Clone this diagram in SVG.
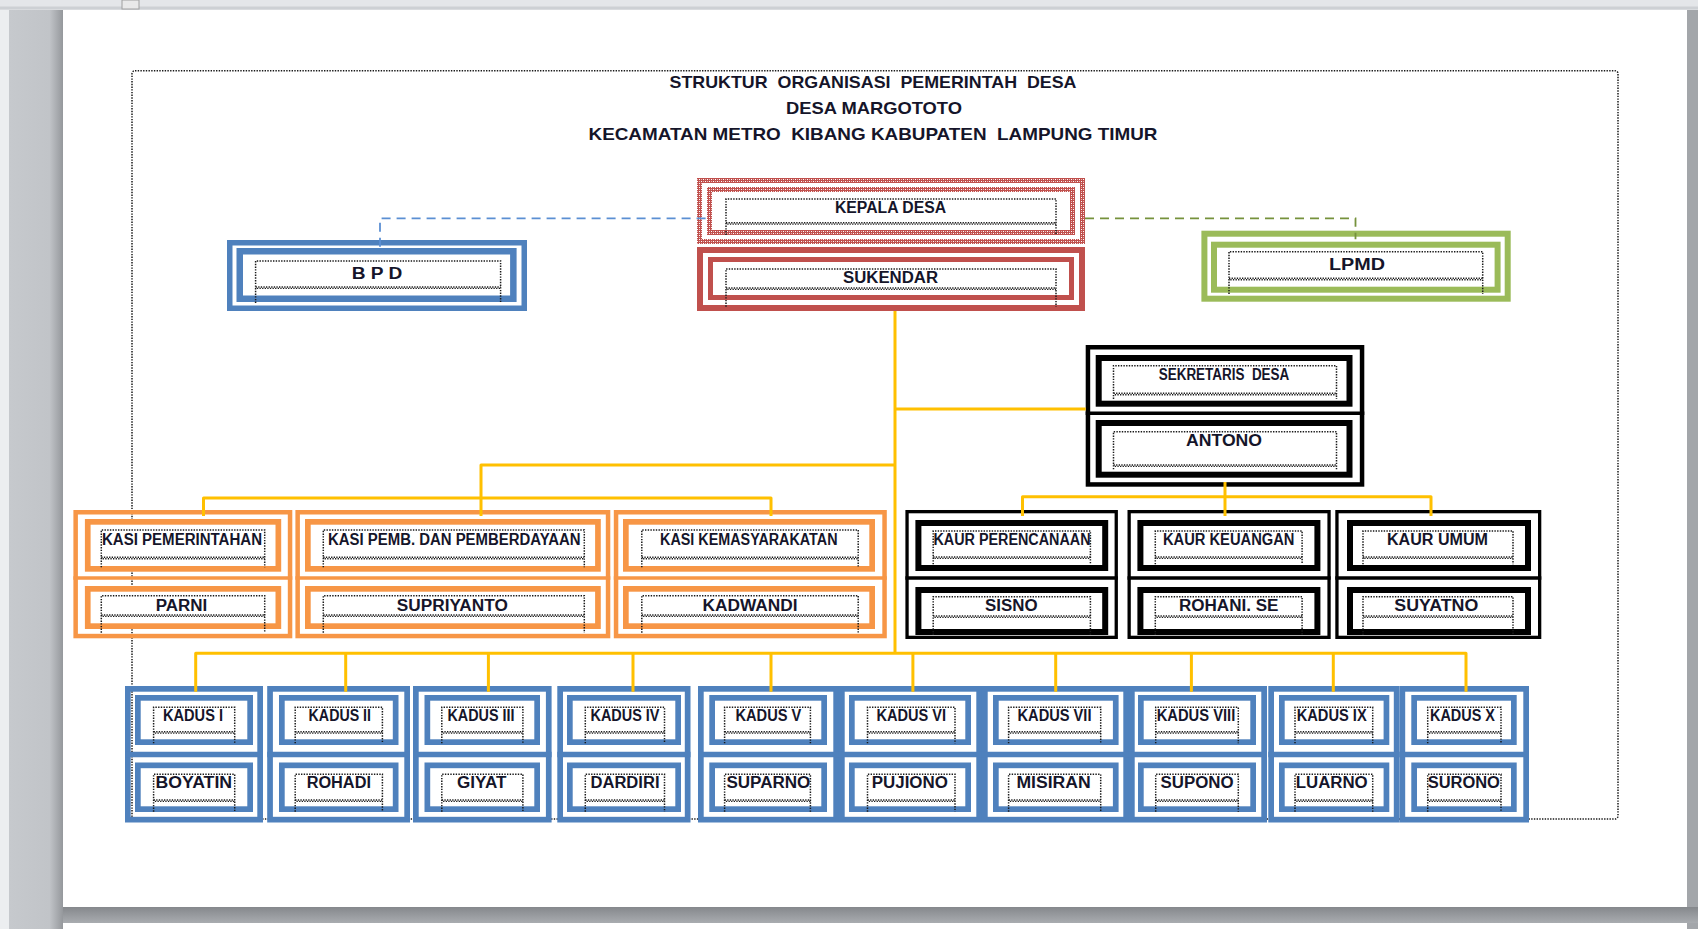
<svg xmlns="http://www.w3.org/2000/svg" width="1698" height="929" viewBox="0 0 1698 929">
<defs>
<pattern id="hatch" width="4" height="4" patternUnits="userSpaceOnUse">
<rect width="4" height="4" fill="#c0504d"/>
<rect x="1" y="1" width="1" height="1" fill="#ffffff"/>
<rect x="3" y="3" width="1" height="1" fill="#ffffff"/>
<rect x="3" y="1" width="1" height="1" fill="#eab8b6"/>
<rect x="1" y="3" width="1" height="1" fill="#eab8b6"/>
</pattern>
<linearGradient id="lg" x1="0" x2="1" y1="0" y2="0">
<stop offset="0" stop-color="#c6c9cd"/>
<stop offset="0.75" stop-color="#c1c4c8"/>
<stop offset="1" stop-color="#95989c"/>
</linearGradient>
<linearGradient id="bg" x1="0" x2="0" y1="0" y2="1">
<stop offset="0" stop-color="#85888c"/>
<stop offset="1" stop-color="#a9acb0"/>
</linearGradient>
</defs>
<style>
.o{fill:none}
.i{fill:#ffffff}
.blue{stroke:#4f81bd}
.red{stroke:#c0504d}
.redp{stroke:url(#hatch)}
.green{stroke:#9bbb59}
.orange{stroke:#f79646}
.black{stroke:#000000}
.tf{fill:none;stroke:#1a1a1a;stroke-width:1.5;stroke-dasharray:1.4 1.3}
.zz{fill:none;stroke:#1a1a1a;stroke-width:1.4;stroke-dasharray:1.3 1.3}
.zz2{fill:none;stroke:#1a1a1a;stroke-width:1.4;stroke-dasharray:1.3 1.3;stroke-dashoffset:1.3}
.t{font-family:"Liberation Sans",Arial,sans-serif;font-weight:700;font-size:16px;fill:#15152a;text-anchor:middle}
.title{font-size:17px}
.y{fill:none;stroke:#ffc000;stroke-width:3;stroke-linejoin:round;stroke-linecap:butt}
.dash{fill:none;stroke-width:1.8;stroke-dasharray:9 6}
</style>

<!-- window / page background -->
<rect x="0" y="0" width="1698" height="929" fill="#eceef0"/>
<rect x="0" y="0" width="1698" height="10" fill="#e4e6e9"/>
<rect x="0" y="6.5" width="1698" height="3" fill="#cdd0d4"/>
<rect x="122" y="0" width="17" height="9" fill="#e9e9e9" stroke="#a0a0a0" stroke-width="1"/>
<rect x="9" y="10" width="54" height="919" fill="url(#lg)"/>
<rect x="1687" y="10" width="11" height="919" fill="#a3a6aa"/>
<rect x="63" y="10" width="1624" height="897" fill="#ffffff"/>
<rect x="63" y="907" width="1635" height="16" fill="url(#bg)"/>
<rect x="63" y="923" width="1624" height="6" fill="#ffffff"/>

<!-- outer dotted frame -->
<rect x="132" y="70.7" width="1486" height="748.3" rx="3" fill="none" stroke="#1a1a1a" stroke-width="1.5" stroke-dasharray="1.4 1.3"/>

<!-- title -->
<g id="title">
<text class="t title" x="873" y="88.3" textLength="407" lengthAdjust="spacingAndGlyphs" xml:space="preserve">STRUKTUR  ORGANISASI  PEMERINTAH  DESA</text>
<text class="t title" x="874" y="114" textLength="176" lengthAdjust="spacingAndGlyphs">DESA MARGOTOTO</text>
<text class="t title" x="873" y="140" textLength="569" lengthAdjust="spacingAndGlyphs" xml:space="preserve">KECAMATAN METRO  KIBANG KABUPATEN  LAMPUNG TIMUR</text>
</g>

<!-- top nodes -->
<g id="bpd">
<rect class="o blue" x="229.75" y="242.75" width="294.5" height="65.5" stroke-width="5.5"/>
<rect class="i blue" x="239.75" y="251.25" width="273.6" height="47.5" stroke-width="6.5"/>
<path class="tf" d="M255.6,303 V261 H500.6 V303"/>
<path class="zz" d="M255.6,287 H500.6"/><path class="zz2" d="M255.6,288.4 H500.6"/>
<text class="t" x="377" y="279.3" textLength="50.6" lengthAdjust="spacingAndGlyphs">B P D</text>
</g>

<g id="kepala-desa">
<rect class="o redp" x="699.5" y="180.5" width="383" height="61" stroke-width="5"/>
<rect class="i redp" x="709.5" y="189.5" width="363" height="43" stroke-width="5"/>
<path class="tf" d="M726,235 V199 H1056 V235"/>
<path class="zz" d="M726,222.7 H1056"/><path class="zz2" d="M726,224.1 H1056"/>
<text class="t" x="890.5" y="213.3" textLength="111" lengthAdjust="spacingAndGlyphs">KEPALA DESA</text>
</g>

<g id="sukendar">
<rect class="o red" x="700" y="250" width="382" height="58" stroke-width="6"/>
<rect class="i red" x="710.5" y="259.5" width="361" height="38" stroke-width="5"/>
<path class="tf" d="M726,306.7 V269 H1056 V306.7"/>
<path class="zz" d="M726,288 H1056"/><path class="zz2" d="M726,289.4 H1056"/>
<text class="t" x="890.5" y="282.7" textLength="95" lengthAdjust="spacingAndGlyphs">SUKENDAR</text>
</g>

<g id="lpmd">
<rect class="o green" x="1204.4" y="233.7" width="303.3" height="65" stroke-width="6"/>
<rect class="i green" x="1214" y="244.7" width="283.6" height="45" stroke-width="6"/>
<path class="tf" d="M1229,294 V251.7 H1482.7 V294"/>
<path class="zz" d="M1229,278.3 H1482.7"/><path class="zz2" d="M1229,279.7 H1482.7"/>
<text class="t" x="1357" y="270" textLength="56" lengthAdjust="spacingAndGlyphs">LPMD</text>
</g>

<!-- sekretaris -->
<g id="sekretaris-desa">
<rect class="o black" x="1087.95" y="347.25" width="274.1" height="137.2" stroke-width="4.5"/>
<line x1="1085.7" y1="413.3" x2="1364.3" y2="413.3" stroke="#000" stroke-width="3.5"/>
<rect class="i black" x="1098.7" y="358" width="250.8" height="45.7" stroke-width="6"/>
<rect class="i black" x="1098.7" y="423" width="250.8" height="51.7" stroke-width="6"/>
<path class="tf" d="M1113.5,399 V365.7 H1336.5 V399"/>
<path class="zz" d="M1113.5,393.3 H1336.5"/><path class="zz2" d="M1113.5,394.7 H1336.5"/>
<path class="tf" d="M1113.5,469.3 V431.7 H1336.5 V469.3"/>
<path class="zz" d="M1113.5,465 H1336.5"/><path class="zz2" d="M1113.5,466.4 H1336.5"/>
<text class="t" x="1224" y="380" textLength="130.5" lengthAdjust="spacingAndGlyphs" xml:space="preserve">SEKRETARIS  DESA</text>
<text class="t" x="1224" y="446" textLength="76" lengthAdjust="spacingAndGlyphs">ANTONO</text>
</g>

<!-- KASI (orange) -->
<g id="kasi-pemerintahan">
<rect class="o orange" x="75.65" y="512.25" width="214.4" height="123.8" stroke-width="4.5"/>
<line x1="73.4" y1="578" x2="292.3" y2="578" stroke="#f79646" stroke-width="3.5"/>
<rect class="i orange" x="87.75" y="521.85" width="190.6" height="47" stroke-width="5.7"/>
<rect class="i orange" x="87.75" y="588.85" width="190.6" height="37.3" stroke-width="5.7"/>
<path class="tf" d="M101.3,567.3 V530 H264.7 V567.3"/>
<path class="zz" d="M101.3,557.3 H264.7"/><path class="zz2" d="M101.3,558.7 H264.7"/>
<path class="tf" d="M101.3,632.7 V595.7 H264.7 V632.7"/>
<path class="zz" d="M101.3,615 H264.7"/><path class="zz2" d="M101.3,616.4 H264.7"/>
<text class="t" x="182" y="545" textLength="160" lengthAdjust="spacingAndGlyphs">KASI PEMERINTAHAN</text>
<text class="t" x="181.5" y="610.7" textLength="51.6" lengthAdjust="spacingAndGlyphs">PARNI</text>
</g>

<g id="kasi-pemb">
<rect class="o orange" x="297.65" y="512.25" width="310.4" height="123.8" stroke-width="4.5"/>
<line x1="295.4" y1="578" x2="610.3" y2="578" stroke="#f79646" stroke-width="3.5"/>
<rect class="i orange" x="307.85" y="521.85" width="290.1" height="47" stroke-width="5.7"/>
<rect class="i orange" x="307.85" y="588.85" width="290.1" height="37.3" stroke-width="5.7"/>
<path class="tf" d="M323.3,567.3 V530 H584.3 V567.3"/>
<path class="zz" d="M323.3,557.3 H584.3"/><path class="zz2" d="M323.3,558.7 H584.3"/>
<path class="tf" d="M323.3,632.7 V595.7 H584.3 V632.7"/>
<path class="zz" d="M323.3,615 H584.3"/><path class="zz2" d="M323.3,616.4 H584.3"/>
<text class="t" x="454.3" y="545" textLength="252.5" lengthAdjust="spacingAndGlyphs">KASI PEMB. DAN PEMBERDAYAAN</text>
<text class="t" x="452.3" y="610.7" textLength="111" lengthAdjust="spacingAndGlyphs">SUPRIYANTO</text>
</g>

<g id="kasi-kemasyarakatan">
<rect class="o orange" x="616.05" y="512.25" width="268.5" height="123.8" stroke-width="4.5"/>
<line x1="613.8" y1="578" x2="886.8" y2="578" stroke="#f79646" stroke-width="3.5"/>
<rect class="i orange" x="625.85" y="521.85" width="246.3" height="47" stroke-width="5.7"/>
<rect class="i orange" x="625.85" y="588.85" width="246.3" height="37.3" stroke-width="5.7"/>
<path class="tf" d="M641.8,567.3 V530 H858.2 V567.3"/>
<path class="zz" d="M641.8,557.3 H858.2"/><path class="zz2" d="M641.8,558.7 H858.2"/>
<path class="tf" d="M641.8,632.7 V595.7 H858.2 V632.7"/>
<path class="zz" d="M641.8,615 H858.2"/><path class="zz2" d="M641.8,616.4 H858.2"/>
<text class="t" x="748.8" y="545" textLength="177.5" lengthAdjust="spacingAndGlyphs">KASI KEMASYARAKATAN</text>
<text class="t" x="750" y="611" textLength="95" lengthAdjust="spacingAndGlyphs">KADWANDI</text>
</g>

<!-- KAUR (black) -->
<g id="kaur-perencanaan">
<rect class="o black" x="907.05" y="511.65" width="209.2" height="125.7" stroke-width="3.3"/>
<line x1="905.4" y1="578" x2="1117.9" y2="578" stroke="#000" stroke-width="3.5"/>
<rect class="i black" x="918.4" y="523" width="186.8" height="45" stroke-width="6"/>
<rect class="i black" x="918.4" y="590" width="186.8" height="42" stroke-width="6"/>
<path class="tf" d="M933.2,564.3 V531 H1090.4 V564.3"/>
<path class="zz" d="M933.2,557 H1090.4"/><path class="zz2" d="M933.2,558.4 H1090.4"/>
<path class="tf" d="M933.2,635 V596.7 H1090.4 V635"/>
<path class="zz" d="M933.2,616 H1090.4"/><path class="zz2" d="M933.2,617.4 H1090.4"/>
<text class="t" x="1012" y="545" textLength="157" lengthAdjust="spacingAndGlyphs">KAUR PERENCANAAN</text>
<text class="t" x="1011.3" y="611" textLength="52.5" lengthAdjust="spacingAndGlyphs">SISNO</text>
</g>

<g id="kaur-keuangan">
<rect class="o black" x="1129.15" y="511.65" width="199.9" height="125.7" stroke-width="3.3"/>
<line x1="1127.5" y1="578" x2="1330.7" y2="578" stroke="#000" stroke-width="3.5"/>
<rect class="i black" x="1140.4" y="523" width="177" height="45" stroke-width="6"/>
<rect class="i black" x="1140.4" y="590" width="177" height="42" stroke-width="6"/>
<path class="tf" d="M1155.3,564.3 V531 H1302.1 V564.3"/>
<path class="zz" d="M1155.3,557 H1302.1"/><path class="zz2" d="M1155.3,558.4 H1302.1"/>
<path class="tf" d="M1155.3,635 V596.7 H1302.1 V635"/>
<path class="zz" d="M1155.3,616 H1302.1"/><path class="zz2" d="M1155.3,617.4 H1302.1"/>
<text class="t" x="1228.7" y="545" textLength="131.5" lengthAdjust="spacingAndGlyphs">KAUR KEUANGAN</text>
<text class="t" x="1228.7" y="611" textLength="99.5" lengthAdjust="spacingAndGlyphs">ROHANI. SE</text>
</g>

<g id="kaur-umum">
<rect class="o black" x="1336.95" y="511.65" width="202.7" height="125.7" stroke-width="3.3"/>
<line x1="1335.3" y1="578" x2="1541.3" y2="578" stroke="#000" stroke-width="3.5"/>
<rect class="i black" x="1350" y="523" width="178" height="45" stroke-width="6"/>
<rect class="i black" x="1350" y="590" width="178" height="42" stroke-width="6"/>
<path class="tf" d="M1363,564.3 V531 H1513 V564.3"/>
<path class="zz" d="M1363,557 H1513"/><path class="zz2" d="M1363,558.4 H1513"/>
<path class="tf" d="M1363,635 V596.7 H1513 V635"/>
<path class="zz" d="M1363,616 H1513"/><path class="zz2" d="M1363,617.4 H1513"/>
<text class="t" x="1437.5" y="545" textLength="101" lengthAdjust="spacingAndGlyphs">KAUR UMUM</text>
<text class="t" x="1436.3" y="611" textLength="84" lengthAdjust="spacingAndGlyphs">SUYATNO</text>
</g>

<!-- KADUS (blue) -->
<g id="kadus-1">
<rect class="o blue" x="127.85" y="688.85" width="132.3" height="130.8" stroke-width="5.7"/>
<line x1="125" y1="754.5" x2="263" y2="754.5" stroke="#4f81bd" stroke-width="5.6"/>
<rect class="i blue" x="137.85" y="697.85" width="112.3" height="44.3" stroke-width="5.7"/>
<rect class="i blue" x="137.85" y="765.35" width="112.3" height="43.8" stroke-width="5.7"/>
<path class="tf" d="M153.6,743.3 V707.3 H234.7 V743.3"/><path class="zz" d="M153.6,731.7 H234.7"/><path class="zz2" d="M153.6,733.1 H234.7"/>
<path class="tf" d="M153.6,811.7 V774.3 H234.7 V811.7"/><path class="zz" d="M153.6,800 H234.7"/><path class="zz2" d="M153.6,801.4 H234.7"/>
<text class="t" x="193" y="720.7" textLength="60" lengthAdjust="spacingAndGlyphs">KADUS I</text>
<text class="t" x="193.8" y="788.3" textLength="76.5" lengthAdjust="spacingAndGlyphs">BOYATIN</text>
</g>

<g id="kadus-2">
<rect class="o blue" x="270.05" y="688.85" width="137.1" height="130.8" stroke-width="5.7"/>
<line x1="267.2" y1="754.5" x2="410" y2="754.5" stroke="#4f81bd" stroke-width="5.6"/>
<rect class="i blue" x="281.85" y="697.85" width="113.8" height="44.3" stroke-width="5.7"/>
<rect class="i blue" x="281.85" y="765.35" width="113.8" height="43.8" stroke-width="5.7"/>
<path class="tf" d="M295.2,743.3 V707.3 H382.4 V743.3"/><path class="zz" d="M295.2,731.7 H382.4"/><path class="zz2" d="M295.2,733.1 H382.4"/>
<path class="tf" d="M295.2,811.7 V774.3 H382.4 V811.7"/><path class="zz" d="M295.2,800 H382.4"/><path class="zz2" d="M295.2,801.4 H382.4"/>
<text class="t" x="339.8" y="720.7" textLength="62.4" lengthAdjust="spacingAndGlyphs">KADUS II</text>
<text class="t" x="338.8" y="788.3" textLength="64.3" lengthAdjust="spacingAndGlyphs">ROHADI</text>
</g>

<g id="kadus-3">
<rect class="o blue" x="415.85" y="688.85" width="132.9" height="130.8" stroke-width="5.7"/>
<line x1="413" y1="754.5" x2="551.6" y2="754.5" stroke="#4f81bd" stroke-width="5.6"/>
<rect class="i blue" x="427.35" y="697.85" width="109.8" height="44.3" stroke-width="5.7"/>
<rect class="i blue" x="427.35" y="765.35" width="109.8" height="43.8" stroke-width="5.7"/>
<path class="tf" d="M441.8,743.3 V707.3 H522.9 V743.3"/><path class="zz" d="M441.8,731.7 H522.9"/><path class="zz2" d="M441.8,733.1 H522.9"/>
<path class="tf" d="M441.8,811.7 V774.3 H522.9 V811.7"/><path class="zz" d="M441.8,800 H522.9"/><path class="zz2" d="M441.8,801.4 H522.9"/>
<text class="t" x="481" y="720.7" textLength="67" lengthAdjust="spacingAndGlyphs">KADUS III</text>
<text class="t" x="481.7" y="788.3" textLength="49.4" lengthAdjust="spacingAndGlyphs">GIYAT</text>
</g>

<g id="kadus-4">
<rect class="o blue" x="560.15" y="688.85" width="127.5" height="130.8" stroke-width="5.7"/>
<line x1="557.3" y1="754.5" x2="690.5" y2="754.5" stroke="#4f81bd" stroke-width="5.6"/>
<rect class="i blue" x="569.85" y="697.85" width="108.3" height="44.3" stroke-width="5.7"/>
<rect class="i blue" x="569.85" y="765.35" width="108.3" height="43.8" stroke-width="5.7"/>
<path class="tf" d="M585.3,743.3 V707.3 H664.5 V743.3"/><path class="zz" d="M585.3,731.7 H664.5"/><path class="zz2" d="M585.3,733.1 H664.5"/>
<path class="tf" d="M585.3,811.7 V774.3 H664.5 V811.7"/><path class="zz" d="M585.3,800 H664.5"/><path class="zz2" d="M585.3,801.4 H664.5"/>
<text class="t" x="625" y="720.7" textLength="69" lengthAdjust="spacingAndGlyphs">KADUS IV</text>
<text class="t" x="625" y="788.3" textLength="69" lengthAdjust="spacingAndGlyphs">DARDIRI</text>
</g>

<g id="kadus-5">
<rect class="o blue" x="700.85" y="688.85" width="135.3" height="130.8" stroke-width="5.7"/>
<line x1="698" y1="754.5" x2="839" y2="754.5" stroke="#4f81bd" stroke-width="5.6"/>
<rect class="i blue" x="712.15" y="697.85" width="112" height="44.3" stroke-width="5.7"/>
<rect class="i blue" x="712.15" y="765.35" width="112" height="43.8" stroke-width="5.7"/>
<path class="tf" d="M724.6,743.3 V707.3 H810.4 V743.3"/><path class="zz" d="M724.6,731.7 H810.4"/><path class="zz2" d="M724.6,733.1 H810.4"/>
<path class="tf" d="M724.6,811.7 V774.3 H810.4 V811.7"/><path class="zz" d="M724.6,800 H810.4"/><path class="zz2" d="M724.6,801.4 H810.4"/>
<text class="t" x="768.4" y="720.7" textLength="66" lengthAdjust="spacingAndGlyphs">KADUS V</text>
<text class="t" x="768.4" y="788.3" textLength="84" lengthAdjust="spacingAndGlyphs">SUPARNO</text>
</g>

<g id="kadus-6">
<rect class="o blue" x="841.85" y="688.85" width="137.3" height="130.8" stroke-width="5.7"/>
<line x1="839" y1="754.5" x2="982" y2="754.5" stroke="#4f81bd" stroke-width="5.6"/>
<rect class="i blue" x="851.85" y="697.85" width="116.3" height="44.3" stroke-width="5.7"/>
<rect class="i blue" x="851.85" y="765.35" width="116.3" height="43.8" stroke-width="5.7"/>
<path class="tf" d="M867.5,743.3 V707.3 H955 V743.3"/><path class="zz" d="M867.5,731.7 H955"/><path class="zz2" d="M867.5,733.1 H955"/>
<path class="tf" d="M867.5,811.7 V774.3 H955 V811.7"/><path class="zz" d="M867.5,800 H955"/><path class="zz2" d="M867.5,801.4 H955"/>
<text class="t" x="911.2" y="720.7" textLength="69.6" lengthAdjust="spacingAndGlyphs">KADUS VI</text>
<text class="t" x="909.8" y="788.3" textLength="76" lengthAdjust="spacingAndGlyphs">PUJIONO</text>
</g>

<g id="kadus-7">
<rect class="o blue" x="984.85" y="688.85" width="141.3" height="130.8" stroke-width="5.7"/>
<line x1="982" y1="754.5" x2="1129" y2="754.5" stroke="#4f81bd" stroke-width="5.6"/>
<rect class="i blue" x="995.85" y="697.85" width="119.9" height="44.3" stroke-width="5.7"/>
<rect class="i blue" x="995.85" y="765.35" width="119.9" height="43.8" stroke-width="5.7"/>
<path class="tf" d="M1008.6,743.3 V707.3 H1100.7 V743.3"/><path class="zz" d="M1008.6,731.7 H1100.7"/><path class="zz2" d="M1008.6,733.1 H1100.7"/>
<path class="tf" d="M1008.6,811.7 V774.3 H1100.7 V811.7"/><path class="zz" d="M1008.6,800 H1100.7"/><path class="zz2" d="M1008.6,801.4 H1100.7"/>
<text class="t" x="1054.5" y="720.7" textLength="74" lengthAdjust="spacingAndGlyphs">KADUS VII</text>
<text class="t" x="1053.6" y="788.3" textLength="74.3" lengthAdjust="spacingAndGlyphs">MISIRAN</text>
</g>

<g id="kadus-8">
<rect class="o blue" x="1131.85" y="688.85" width="132.3" height="130.8" stroke-width="5.7"/>
<line x1="1129" y1="754.5" x2="1267" y2="754.5" stroke="#4f81bd" stroke-width="5.6"/>
<rect class="i blue" x="1140.85" y="697.85" width="112.3" height="44.3" stroke-width="5.7"/>
<rect class="i blue" x="1140.85" y="765.35" width="112.3" height="43.8" stroke-width="5.7"/>
<path class="tf" d="M1155.7,743.3 V707.3 H1238.3 V743.3"/><path class="zz" d="M1155.7,731.7 H1238.3"/><path class="zz2" d="M1155.7,733.1 H1238.3"/>
<path class="tf" d="M1155.7,811.7 V774.3 H1238.3 V811.7"/><path class="zz" d="M1155.7,800 H1238.3"/><path class="zz2" d="M1155.7,801.4 H1238.3"/>
<text class="t" x="1196" y="720.7" textLength="78.6" lengthAdjust="spacingAndGlyphs">KADUS VIII</text>
<text class="t" x="1197" y="788.3" textLength="73" lengthAdjust="spacingAndGlyphs">SUPONO</text>
</g>

<g id="kadus-9">
<rect class="o blue" x="1271.15" y="688.85" width="125.5" height="130.8" stroke-width="5.7"/>
<line x1="1268.3" y1="754.5" x2="1399.5" y2="754.5" stroke="#4f81bd" stroke-width="5.6"/>
<rect class="i blue" x="1281.85" y="697.85" width="104.6" height="44.3" stroke-width="5.7"/>
<rect class="i blue" x="1281.85" y="765.35" width="104.6" height="43.8" stroke-width="5.7"/>
<path class="tf" d="M1295,743.3 V707.3 H1372.7 V743.3"/><path class="zz" d="M1295,731.7 H1372.7"/><path class="zz2" d="M1295,733.1 H1372.7"/>
<path class="tf" d="M1295,811.7 V774.3 H1372.7 V811.7"/><path class="zz" d="M1295,800 H1372.7"/><path class="zz2" d="M1295,801.4 H1372.7"/>
<text class="t" x="1331.7" y="720.7" textLength="70" lengthAdjust="spacingAndGlyphs">KADUS IX</text>
<text class="t" x="1331.7" y="788.3" textLength="72" lengthAdjust="spacingAndGlyphs">LUARNO</text>
</g>

<g id="kadus-10">
<rect class="o blue" x="1402.35" y="688.85" width="123.8" height="130.8" stroke-width="5.7"/>
<line x1="1399.5" y1="754.5" x2="1529" y2="754.5" stroke="#4f81bd" stroke-width="5.6"/>
<rect class="i blue" x="1414.15" y="697.85" width="99.7" height="44.3" stroke-width="5.7"/>
<rect class="i blue" x="1414.15" y="765.35" width="99.7" height="43.8" stroke-width="5.7"/>
<path class="tf" d="M1427.7,743.3 V707.3 H1501 V743.3"/><path class="zz" d="M1427.7,731.7 H1501"/><path class="zz2" d="M1427.7,733.1 H1501"/>
<path class="tf" d="M1427.7,811.7 V774.3 H1501 V811.7"/><path class="zz" d="M1427.7,800 H1501"/><path class="zz2" d="M1427.7,801.4 H1501"/>
<text class="t" x="1462.5" y="720.7" textLength="65" lengthAdjust="spacingAndGlyphs">KADUS X</text>
<text class="t" x="1463.8" y="788.3" textLength="72.3" lengthAdjust="spacingAndGlyphs">SURONO</text>
</g>

<!-- connectors -->
<g id="connectors">
<path class="dash" stroke="#5b8fd3" d="M380,246.7 V218.3 H707"/>
<path class="dash" stroke="#76923c" d="M1085,218.3 H1355.5 V239.3"/>
<path class="y" d="M895,311 V653.3"/>
<path class="y" d="M895,409 H1085.7"/>
<path class="y" d="M895,465 H481 V516"/>
<path class="y" d="M203.5,516 V498 H771 V516"/>
<path class="y" d="M1225,482 V516"/>
<path class="y" d="M1022.5,516 V496.7 H1431 V516"/>
<path class="y" d="M195.7,691.7 V653.3 H1466 V691.7"/>
<path class="y" d="M345.7,653.3 V691.7 M488.4,653.3 V691.7 M633,653.3 V691.7 M771,653.3 V691.7 M912.9,653.3 V691.7 M1055.7,653.3 V691.7 M1191.4,653.3 V691.7 M1333.3,653.3 V691.7"/>
</g>
</svg>
